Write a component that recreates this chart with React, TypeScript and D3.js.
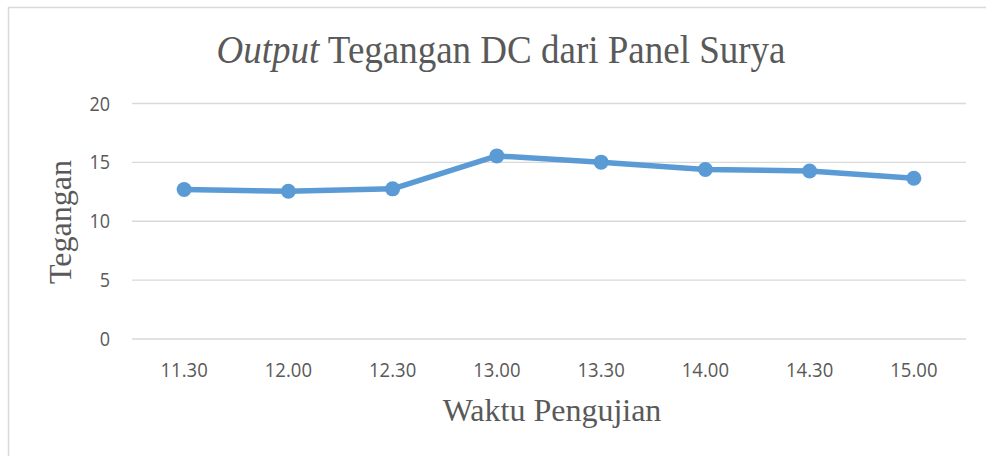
import React from 'react';
import * as d3 from 'd3';

// data
const categories = ['11.30', '12.00', '12.30', '13.00', '13.30', '14.00', '14.30', '15.00'];
const tegangan = [12.7, 12.55, 12.75, 15.55, 15.02, 14.4, 14.27, 13.65];
const yTicks = [0, 5, 10, 15, 20];

const W = 986;
const H = 456;

const App = () => {
  const x = d3.scaleBand().domain(categories).range([132, 966]);
  const y = d3.scaleLinear().domain([0, 20]).range([339, 103.5]);
  const cx = (c: string) => (x(c) || 0) + x.bandwidth() / 2;

  const line = d3.line<number>()
    .x((d, i) => cx(categories[i]))
    .y(d => y(d));

  const labelFont = '"Open Sans", "Noto Sans", sans-serif';
  const serif = '"Liberation Serif", "Times New Roman", serif';

  return (
    <svg width={W} height={H} style={{ position: 'absolute', left: 0, top: 0, background: '#fff' }}>
      {/* chart frame */}
      <rect x={8.5} y={7.5} width={1000} height={500} fill="#fff" stroke="#d9d9d9" strokeWidth={1.5} />

      <text transform="translate(501,63) scale(1,1.08)" textAnchor="middle" fontFamily={serif} fontSize={37} fill="#595959">
        <tspan fontStyle="italic">Output</tspan> Tegangan DC dari Panel Surya
      </text>

      {/* gridlines */}
      {yTicks.map(t => (
        <g key={t}>
          <line x1={132} x2={966} y1={y(t)} y2={y(t)} stroke="#d9d9d9" strokeWidth={1.3} />
          <text transform={`translate(110,${y(t) + 7}) scale(1,1.1)`} textAnchor="end" fontFamily={labelFont} fontSize={18} fill="#595959">{t}</text>
        </g>
      ))}

      {categories.map(c => (
        <text key={c} transform={`translate(${cx(c)},377) scale(1,1.1)`} textAnchor="middle" fontFamily={labelFont} fontSize={18.5} fill="#595959">{c}</text>
      ))}

      <path d={line(tegangan) || ''} fill="none" stroke="#5B9BD5" strokeWidth={5.5} strokeLinejoin="round" strokeLinecap="round" />
      {tegangan.map((v, i) => (
        <circle key={i} cx={cx(categories[i])} cy={y(v)} r={7.5} fill="#5B9BD5" />
      ))}

      <text transform="translate(71,222) rotate(-90)" textAnchor="middle" fontFamily={serif} fontSize={32} fill="#595959">Tegangan</text>
      <text x={552} y={421} textAnchor="middle" fontFamily={serif} fontSize={32} fill="#595959">Waktu Pengujian</text>
    </svg>
  );
};

export default App;
